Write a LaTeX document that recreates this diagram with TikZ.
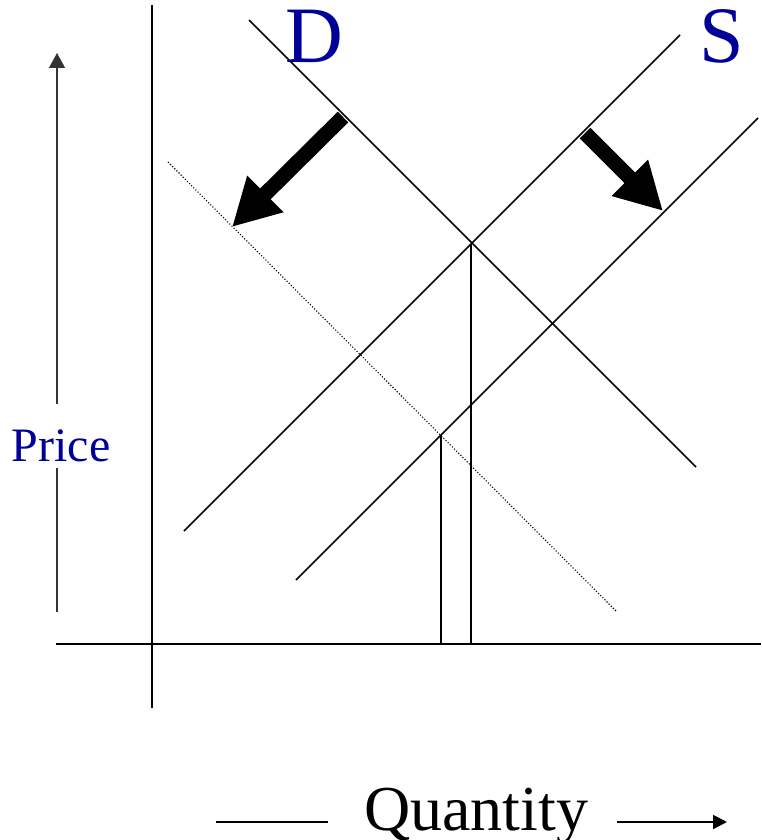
\documentclass[tikz,border=0pt]{standalone}
\usepackage{fontspec}
\setmainfont{Liberation Serif}
\usetikzlibrary{arrows.meta}
\definecolor{lblblue}{RGB}{0,0,153}
\tikzset{
  curve/.style={draw=black, line width=1.5pt},
  shiftarrow/.style={draw=black, line width=15pt, -{Triangle[length=47pt,width=48pt]}},
  axisarrow/.style={draw=black!80, line width=1.3pt},
  lbl/.style={inner sep=0pt, anchor=base},
}
\begin{document}
\begin{tikzpicture}[x=1pt,y=-1pt]
\useasboundingbox (0,0) rectangle (761,840);
% axes
\coordinate (yt) at (152,5); \coordinate (yb) at (152,708);
\coordinate (xl) at (56,644); \coordinate (xr) at (761,644);
\draw[curve] (yt) -- (yb);
\draw[curve] (xl) -- (xr);
% demand and supply
\coordinate (d1) at (249,20); \coordinate (d2) at (696,467);
\coordinate (s1) at (184,531); \coordinate (s2) at (680,35);
\coordinate (t1) at (296,580); \coordinate (t2) at (758,118);
\coordinate (n1) at (168,162); \coordinate (n2) at (617,612);
\draw[curve] (d1) -- (d2);
\draw[curve] (s1) -- (s2);
\draw[curve] (t1) -- (t2);
\draw[black, line width=1.1pt, dash pattern=on 1.1pt off 1.9pt] (n1) -- (n2);
% equilibrium drops
\coordinate (e1) at (471,244); \coordinate (e1b) at (471,644);
\coordinate (e2) at (441,435); \coordinate (e2b) at (441,644);
\draw[curve] (e1) -- (e1b);
\draw[curve] (e2) -- (e2b);
% shift arrows
\coordinate (a1s) at (343,117); \coordinate (a1e) at (232,227);
\coordinate (a2s) at (585,133); \coordinate (a2e) at (663,211);
\draw[shiftarrow] (a1s) -- (a1e);
\draw[shiftarrow] (a2s) -- (a2e);
% labels
\node[lbl, text=lblblue, font=\fontsize{80}{80}\selectfont] (D) at (314,63) {D};
\node[lbl, text=lblblue, font=\fontsize{80}{80}\selectfont] (S) at (722,63) {S};
\node[lbl, text=lblblue, font=\fontsize{48}{48}\selectfont] (P) at (61,461) {Price};
\node[lbl, font=\fontsize{64}{64}\selectfont] (Q) at (476,830) {Quantity};
% price arrow
\coordinate (pt) at (57,53); \coordinate (pb) at (57,612);
\coordinate (pm1) at (57,404); \coordinate (pm2) at (57,468);
\draw[axisarrow, -{Triangle[length=15pt,width=16pt]}] (pm1) -- (pt);
\draw[axisarrow] (pm2) -- (pb);
% quantity arrow
\coordinate (ql1) at (216,822); \coordinate (ql2) at (328,822);
\coordinate (qr1) at (617,822); \coordinate (qr2) at (727,822);
\draw[black, line width=2pt] (ql1) -- (ql2);
\draw[black, line width=2pt, -{Triangle[length=14pt,width=14pt]}] (qr1) -- (qr2);
\end{tikzpicture}
\end{document}
